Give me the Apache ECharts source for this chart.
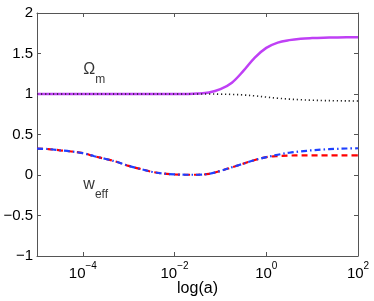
<!DOCTYPE html>
<html>
<head>
<meta charset="utf-8">
<script src="https://cdn.jsdelivr.net/npm/echarts@6/dist/echarts.min.js"></script>
<style>html,body{margin:0;padding:0;background:#fff;}#c{width:374px;height:301px;}</style>
</head>
<body>
<div id="c"></div>
<script>
// log10(a) sample positions
const logA = [-5,-4.75,-4.5,-4.25,-4,-3.75,-3.5,-3.25,-3,-2.75,-2.5,-2.25,-2,-1.75,-1.5,-1.25,-1,-0.75,-0.5,-0.25,0,0.25,0.5,0.75,1,1.25,1.5,1.75,2];
// Omega_m (solid purple)
const omegaM = [1,1,1,1,1,1,1,1,1,1,1,1,1,1.001,1.005,1.018,1.06,1.14,1.285,1.45,1.57,1.635,1.665,1.682,1.69,1.695,1.698,1.7,1.7];
// dotted black
const omegaRef = [1,1,1,1,1,1,1,1,1,1,1,1,1,1,1,1,0.998,0.995,0.988,0.977,0.962,0.948,0.937,0.929,0.923,0.919,0.917,0.915,0.914];
// w_eff dashed red
const wRed = [0.325,0.32,0.305,0.29,0.27,0.232,0.198,0.16,0.112,0.075,0.04,0.018,0.008,0.003,0.003,0.014,0.05,0.095,0.14,0.185,0.22,0.234,0.24,0.242,0.242,0.242,0.242,0.242,0.242];
// w_eff dash-dot blue
const wBlue = [0.325,0.32,0.305,0.29,0.27,0.232,0.198,0.16,0.112,0.075,0.04,0.018,0.008,0.003,0.003,0.014,0.05,0.095,0.14,0.185,0.22,0.25,0.275,0.292,0.305,0.315,0.322,0.327,0.33];
// axis ticks
const xTicks = [1e-4, 1e-2, 1, 100];
const yMin = -1, yMax = 2, yStep = 0.5;
// annotations
const notes = [
  {a: 1e-4, y: 1.3, main: 'Ω', sub: 'm'},
  {a: 1e-4, y: -0.12, main: 'w', sub: 'eff'}
];

const pts = arr => logA.map((l, i) => [Math.pow(10, l), arr[i]]);
const FONT = 'Liberation Sans, Arial, Helvetica, sans-serif';
const frame = '#555';

const chart = echarts.init(document.getElementById('c'));
const baseX = {
  type: 'log', logBase: 10, min: 1e-5, max: 100,
  axisLine: {show: true, onZero: false, lineStyle: {color: frame, width: 1}},
  splitLine: {show: false}, minorTick: {show: false},
  axisTick: {show: true, inside: true, length: 4, customValues: xTicks, lineStyle: {color: frame}}
};
const baseY = {
  type: 'value', min: yMin, max: yMax, interval: yStep,
  axisLine: {show: true, onZero: false, lineStyle: {color: frame, width: 1}},
  splitLine: {show: false},
  axisTick: {show: true, inside: true, length: 4, lineStyle: {color: frame}}
};
const lineBase = {type: 'line', showSymbol: false, smooth: 0.35};
chart.setOption({
  animation: false,
  backgroundColor: '#fff',
  grid: {left: 37, right: 16, top: 13, bottom: 45, containLabel: false, outerBoundsMode: 'none'},
  xAxis: [
    Object.assign({}, baseX, {
      position: 'bottom',
      name: 'log(a)', nameLocation: 'middle', nameGap: 25, nameMoveOverlap: false,
      nameTextStyle: {fontFamily: FONT, fontSize: 16, color: '#000'},
      axisLabel: {
        show: true, customValues: xTicks, margin: 5,
        formatter: v => {
          const e = Math.round(Math.log10(v));
          return '{b|10}{s|' + (e < 0 ? '\u2212' + (-e) : e) + '}';
        },
        rich: {
          b: {fontFamily: FONT, fontSize: 15, color: '#000'},
          s: {fontFamily: FONT, fontSize: 10, color: '#000', padding: [0, 0, 16, 0]}
        }
      }
    }),
    Object.assign({}, baseX, {position: 'top', axisLabel: {show: false}})
  ],
  yAxis: [
    Object.assign({}, baseY, {
      position: 'left',
      axisLabel: {
        show: true, margin: 4, fontFamily: FONT, fontSize: 15, color: '#000',
        formatter: v => String(v).replace('-', '\u2212')
      }
    }),
    Object.assign({}, baseY, {position: 'right', axisLabel: {show: false}})
  ],
  series: [
    Object.assign({}, lineBase, {name: 'Omega_m', data: pts(omegaM),
     lineStyle: {color: '#bf40f5', width: 2.5, type: 'solid'}}),
    Object.assign({}, lineBase, {name: 'ref', data: pts(omegaRef),
     lineStyle: {color: '#222', width: 1.6, type: [1.2, 2.8]}}),
    Object.assign({}, lineBase, {name: 'w red', data: pts(wRed),
     lineStyle: {color: '#ff0000', width: 2.2, type: [6, 4]}}),
    Object.assign({}, lineBase, {name: 'w blue', data: pts(wBlue),
     lineStyle: {color: '#1e40ff', width: 2.2, type: [6, 3, 1.5, 3]}}),
    {type: 'scatter', name: 'notes', symbolSize: 1, itemStyle: {color: 'transparent'},
     data: notes.map(n => ({value: [n.a, n.y], main: n.main, sub: n.sub})),
     label: {
       show: true, position: 'right', distance: 0,
       formatter: p => '{o|' + p.data.main + '}{u|' + p.data.sub + '}',
       rich: {
         o: {fontFamily: FONT, fontSize: 16, color: '#000'},
         u: {fontFamily: FONT, fontSize: 12, color: '#000', padding: [19, 0, 0, 0]}
       }
     }}
  ]
});
</script>
</body>
</html>
